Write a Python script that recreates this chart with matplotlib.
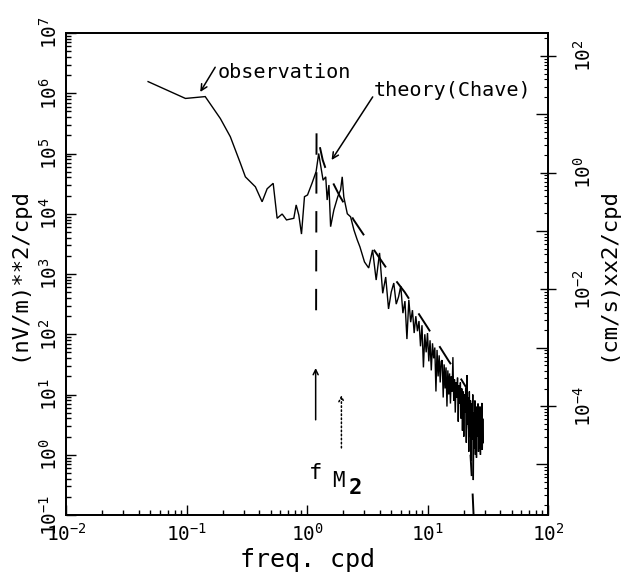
import numpy as np
import matplotlib
matplotlib.use("Agg")
import matplotlib.pyplot as plt
from matplotlib.ticker import FixedLocator, LogFormatterSciNotation, NullFormatter

# ---------------- data ----------------
# observed electric-field spectrum, low-frequency part (cpd, (nV/m)^2/cpd)
obs_freq_low = [0.048, 0.098, 0.143, 0.191, 0.231, 0.280, 0.308, 0.373, 0.424,
                0.467, 0.524, 0.565, 0.622, 0.676, 0.777, 0.813, 0.855, 0.900,
                0.953, 1.01, 1.10, 1.19, 1.25, 1.31, 1.36, 1.43, 1.47, 1.52,
                1.57, 1.67, 1.80, 1.90, 1.96, 2.02, 2.16, 2.30, 2.45, 2.61]
obs_power_low = [1.56e6, 8.2e5, 8.8e5, 3.8e5, 1.9e5, 6.9e4, 4.1e4, 2.8e4, 1.58e4,
                 2.6e4, 3.2e4, 8.4e3, 9.9e3, 7.9e3, 8.4e3, 1.4e4, 9.5e3, 4.6e3,
                 1.92e4, 2.05e4, 3.2e4, 5.0e4, 1.0e5, 5.7e4, 3.6e4, 4.1e4, 1.69e4, 3.0e4,
                 6.1e3, 1.15e4, 1.92e4, 2.5e4, 4.1e4, 1.9e4, 1.0e4, 8.9e3, 5.4e3, 3.7e3]

# observed spectrum, high-frequency noisy part: frequencies (cpd) and log10 power
obs_freq_hf = [2.75, 3.00, 3.25, 3.50, 3.75, 4.00, 4.25, 4.50, 4.75, 5.00,
               5.25, 5.50, 5.75, 6.00, 6.25, 6.50, 6.75, 7.00, 7.25, 7.50,
               7.75, 8.00, 8.25, 8.50, 8.75, 9.00, 9.25, 9.50, 9.75, 10.00,
               10.25, 10.50, 10.75, 11.00, 11.25, 11.50, 11.75, 12.00, 12.25, 12.50,
               12.75, 13.00, 13.25, 13.50, 13.75, 14.00, 14.25, 14.50, 14.75, 15.00,
               15.25, 15.50, 15.75, 16.00, 16.25, 16.50, 16.75, 17.00, 17.25, 17.50,
               17.75, 18.00, 18.25, 18.50, 18.75, 19.00, 19.25, 19.50, 19.75, 20.00,
               20.25, 20.50, 20.75, 21.00, 21.25, 21.50, 21.75, 22.00, 22.25, 22.50,
               22.75, 23.00, 23.25, 23.50, 23.75, 24.00, 24.25, 24.50, 24.75, 25.00,
               25.25, 25.50, 25.75, 26.00, 26.25, 26.50, 26.75, 27.00, 27.25, 27.50,
               27.75, 28.00, 28.25, 28.50, 28.75, 29.00]
obs_log10_power_hf = [3.45, 3.20, 3.10, 3.40, 2.90, 3.35, 2.68, 2.95, 2.42, 2.70,
                      2.85, 2.50, 2.62, 2.80, 2.35, 2.55, 1.92, 2.57, 2.20, 2.40,
                      2.02, 2.30, 2.05, 2.22, 1.80, 2.15, 1.45, 2.00, 1.70, 2.02,
                      1.55, 1.90, 1.40, 1.85, 1.60, 1.78, 1.05, 1.74, 1.30, 1.65,
                      1.20, 1.55, 1.57, 0.95, 1.50, 1.10, 1.45, 0.80, 1.40, 1.00,
                      1.35, 0.85, 1.30, 1.05, 1.62, 0.90, 1.25, 0.70, 1.20, 0.95,
                      1.28, 0.55, 1.15, 0.85, 1.20, 0.60, 1.10, 0.40, 1.05, 0.30,
                      1.00, 0.70, 1.10, 0.20, 1.32, 0.50, 0.95, 0.05, 1.05, 0.40,
                      0.90, -0.10, 0.85, 0.25, 1.00, -0.42, 0.70, 0.10, 0.90, 0.00,
                      0.80, -0.05, 0.75, 0.30, 0.85, 0.05, 0.70, 0.10, 0.80, 0.00,
                      0.65, 0.10, 0.86, 0.08, 0.60, 0.20]

# theoretical spectrum (Chave), dashed
theory_freq = [1.19, 1.20, 1.35, 1.42, 1.86, 2.44, 3.24, 4.67, 6.47, 10.0,
               15.0, 19.0, 21.0, 22.5, 23.5, 24.5]
theory_power = [2.5e2, 2.3e5, 7.8e4, 5.8e4, 2.0e4, 7.9e3, 3.4e3, 1.17e3, 5.0e2, 1.3e2,
                3.6e1, 1.8e1, 1.3e1, 1.45, 0.32, 0.05]

# marker arrows: inertial frequency f and M2 tide
arrow_freq = [1.18, 1.93]
arrow_bottom = [3.8, 1.3]
arrow_top = [27.5, 9.8]

# axis tick values
x_ticks = [1e-2, 1e-1, 1e0, 1e1, 1e2]
y_ticks = [1e-1, 1e0, 1e1, 1e2, 1e3, 1e4, 1e5, 1e6, 1e7]
y2_ticks = [1e2, 1e0, 1e-2, 1e-4]
y2_mid_ticks = [1e1, 1e-1, 1e-3, 1e-5]

# ---------------- figure ----------------
plt.rcParams['font.family'] = ['DejaVu Sans Mono', 'DejaVu Sans']
plt.rcParams['mathtext.fontset'] = 'custom'
plt.rcParams['mathtext.rm'] = 'DejaVu Sans Mono'
plt.rcParams['mathtext.it'] = 'DejaVu Sans Mono'

W, H = 625, 576
fig = plt.figure(figsize=(W / 100, H / 100), dpi=100)
L, R, T, B = 66, 548, 33, 515
ax = fig.add_axes([L / W, 1 - B / H, (R - L) / W, (B - T) / H])
ax.set_xscale('log')
ax.set_yscale('log')
ax.set_xlim(1e-2, 1e2)
ax.set_ylim(1e-1, 1e7)

obs_f = list(obs_freq_low) + list(obs_freq_hf)
obs_p = list(obs_power_low) + list(10.0 ** np.array(obs_log10_power_hf))
ax.plot(obs_f, obs_p, color='black', lw=1.0, solid_joinstyle='miter')
ax.plot(theory_freq, theory_power, color='black', lw=1.4, linestyle=(0, (11, 9)))

# arrows for f (solid) and M2 (dotted)
styles = ['-', ':']
for fq, y0, y1, ls in zip(arrow_freq, arrow_bottom, arrow_top, styles):
    ax.annotate('', xy=(fq, y1), xytext=(fq, y0),
                arrowprops=dict(arrowstyle='->', lw=1.1, linestyle=ls,
                                color='black', mutation_scale=9,
                                shrinkA=0, shrinkB=0))

# annotations
ax.annotate('', xy=(0.130, 1.05e6), xytext=(0.173, 2.7e6),
            arrowprops=dict(arrowstyle='->', lw=1.1, color='black',
                            mutation_scale=11, shrinkA=0, shrinkB=0))
ax.text(0.180, 2.25e6, 'observation', fontsize=14.5, ha='left', va='center')
ax.annotate('', xy=(1.60, 7.8e4), xytext=(3.51, 8.7e5),
            arrowprops=dict(arrowstyle='->', lw=1.1, color='black',
                            mutation_scale=11, shrinkA=0, shrinkB=0))
ax.text(3.6, 1.1e6, 'theory(Chave)', fontsize=14.5, ha='left', va='center')
ax.text(1.18, 0.50, 'f', fontsize=16, ha='center', va='center')
ax.text(1.83, 0.36, 'M', fontsize=15, ha='center', va='center')
ax.text(2.50, 0.28, '2', fontsize=16, ha='center', va='center', fontweight='bold')

# axes styling
for s in ax.spines.values():
    s.set_linewidth(1.3)

ax.xaxis.set_major_locator(FixedLocator(x_ticks))
ax.xaxis.set_major_formatter(LogFormatterSciNotation())
ax.yaxis.set_major_locator(FixedLocator(y_ticks))
ax.yaxis.set_major_formatter(LogFormatterSciNotation())
ax.tick_params(which='both', direction='in', top=False, right=False, width=1.0)
ax.tick_params(which='major', length=7, labelsize=14)
ax.tick_params(which='minor', length=3.5)
ax.tick_params(axis='x', which='major', pad=6)
ax.tick_params(axis='y', which='major', pad=4, labelrotation=90)
for lab in ax.get_yticklabels():
    lab.set_va('center')

ax.set_xlabel('freq. cpd', fontsize=18, labelpad=2)
ax.set_ylabel('(nV/m)**2/cpd', fontsize=16, labelpad=7)

# right axis (velocity units)
ax2 = ax.twinx()
ax2.set_yscale('log')
ax2.set_ylim(10 ** -5.866, 10 ** 2.394)
ax2.yaxis.set_major_locator(FixedLocator(y2_ticks))
ax2.yaxis.set_major_formatter(LogFormatterSciNotation())
ax2.yaxis.set_minor_locator(FixedLocator(y2_mid_ticks))
ax2.yaxis.set_minor_formatter(NullFormatter())
ax2.tick_params(axis='y', which='major', direction='inout', length=12, width=1.0,
                labelsize=14, pad=12, labelrotation=90)
ax2.tick_params(axis='y', which='minor', direction='in', length=9, width=1.0)
for lab in ax2.get_yticklabels():
    lab.set_va('center')
ax2.set_ylabel('(cm/s)xx2/cpd', fontsize=16, labelpad=2)
for s in ax2.spines.values():
    s.set_linewidth(1.3)

# small minor ticks on right axis
ax3 = ax.twinx()
ax3.set_yscale('log')
ax3.set_ylim(10 ** -5.866, 10 ** 2.394)
ax3.yaxis.set_major_locator(FixedLocator([]))
ax3.yaxis.set_minor_formatter(NullFormatter())
ax3.tick_params(axis='y', which='minor', direction='in', length=3, width=0.8)
ax3.spines[:].set_visible(False)

fig.savefig('out.png', dpi=100)
